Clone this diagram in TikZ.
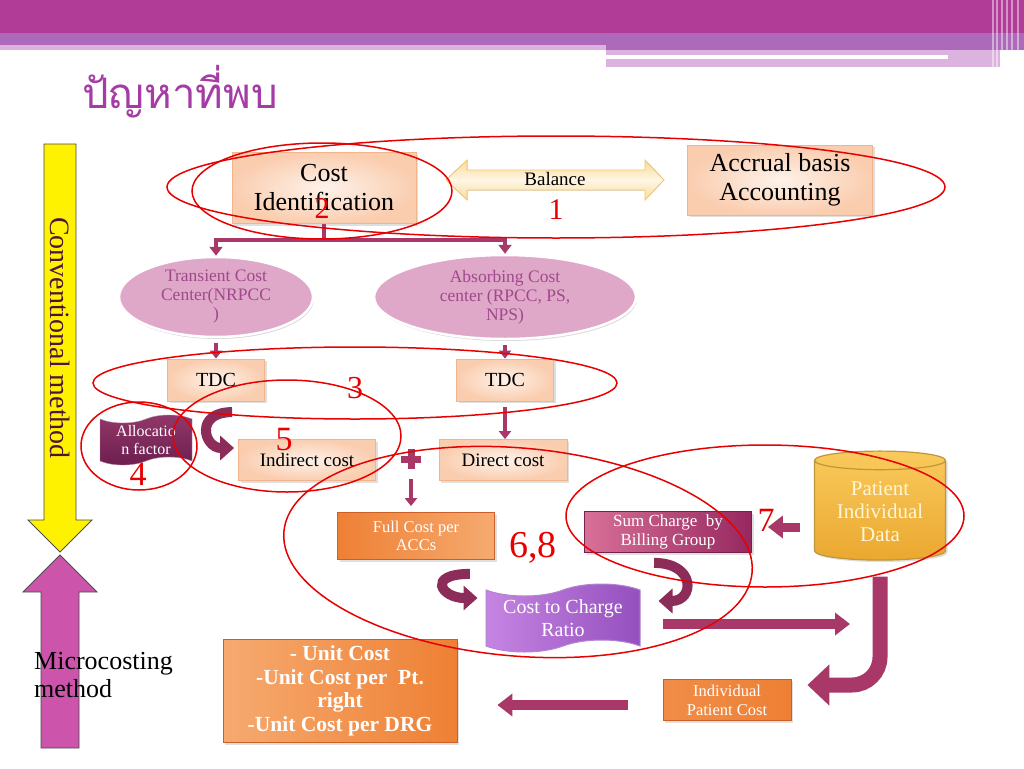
\documentclass[tikz,border=0pt]{standalone}
\usepackage{fontspec}
\setmainfont{Liberation Serif}
\newfontfamily\thaifont[Script=Thai]{Loma}
\usetikzlibrary{shapes.geometric,shapes.symbols,arrows.meta,shadows}
\definecolor{bannermag}{RGB}{176,60,152}
\definecolor{bannerlav}{RGB}{174,106,186}
\definecolor{bannerpink}{RGB}{220,178,222}
\definecolor{titlec}{RGB}{165,60,165}
\definecolor{peachfill}{RGB}{250,205,175}
\definecolor{peachlight}{RGB}{254,242,234}
\definecolor{peachline}{RGB}{242,180,140}
\definecolor{orangeA}{RGB}{238,128,52}
\definecolor{orangeB}{RGB}{246,170,112}
\definecolor{orangeline}{RGB}{200,96,40}
\definecolor{maroon}{RGB}{168,56,104}
\definecolor{curvec}{RGB}{140,44,88}
\definecolor{redmark}{RGB}{232,0,0}
\definecolor{ellfill}{RGB}{224,168,200}
\definecolor{elltext}{RGB}{160,72,140}
\definecolor{allocA}{RGB}{146,56,106}
\definecolor{allocB}{RGB}{108,30,78}
\definecolor{sumA}{RGB}{216,112,152}
\definecolor{sumB}{RGB}{150,40,95}
\definecolor{ccrA}{RGB}{198,132,226}
\definecolor{ccrB}{RGB}{148,80,190}
\definecolor{goldA}{RGB}{250,202,92}
\definecolor{goldB}{RGB}{234,168,48}
\definecolor{goldline}{RGB}{190,150,60}
\definecolor{microc}{RGB}{204,84,170}
\definecolor{convtext}{RGB}{80,20,60}
\definecolor{balA}{RGB}{250,218,150}
\definecolor{balB}{RGB}{255,246,228}
\definecolor{balline}{RGB}{240,200,120}
\newcommand\fs[2]{\fontsize{#1}{#2}\selectfont}
\tikzset{
  peachbox/.style={rectangle, draw=peachline, line width=0.8, inner color=peachlight, outer color=peachfill,
    drop shadow={opacity=0.25,shadow xshift=2pt,shadow yshift=-2pt}, align=center, inner sep=2pt},
  orangebox/.style={rectangle, draw=orangeline, line width=0.8, left color=orangeA, right color=orangeB,
    drop shadow={opacity=0.25,shadow xshift=2pt,shadow yshift=-2pt}, text=white, align=center, inner sep=2pt},
  centerell/.style={ellipse, draw=white, line width=2.5, fill=ellfill, text=elltext, align=center,
    inner sep=0pt, font=\fs{17.5}{19}, drop shadow={opacity=0.3,shadow xshift=1pt,shadow yshift=-2pt}},
  flag/.style={tape, tape bend top=in and out, tape bend bottom=in and out, align=center, text=white, inner sep=1pt},
  redring/.style={draw=redmark, line width=1.5},
  rednum/.style={text=redmark, inner sep=0pt},
  elbowline/.style={draw=maroon, line width=4.5},
  elbowarr/.style={elbowline, -{Triangle[length=9pt,width=13pt]}},
  thinarr/.style={draw=maroon, line width=3.5, -{Triangle[length=8pt,width=12pt]}},
  blockarr/.style={draw=maroon, line width=10, -{Triangle[length=15pt,width=22pt]}},
  curvearr/.style={draw=curvec, line width=10, -{Triangle[length=14pt,width=24pt]}},
}
\begin{document}
\begin{tikzpicture}[x=1pt,y=-1pt]
\useasboundingbox (0,0) rectangle (1024,768);
\fill[white] (0,0) rectangle (1024,768);
% banner
\fill[bannermag] (0,0) rectangle (1024,33);
\fill[bannerlav] (0,33) rectangle (1024,45);
\fill[bannerpink] (0,45) rectangle (606,50);
\fill[bannerlav] (606,45) rectangle (1024,50);
\fill[bannerpink] (606,50) rectangle (1000,67);
\fill[white] (606,55.5) rectangle (948,58.5);
\foreach \sx in {993,997,1002,1007,1012,1018}
  \draw[white, opacity=0.45, line width=1.5] (\sx,0) -- (\sx,70);
\node (title) at (82,92) [anchor=west, inner sep=0pt, font=\thaifont\fs{42}{46}, text=titlec] {ปัญหาที่พบ};

% side arrows
\filldraw[fill=yellow, draw=black!70, line width=0.8] (44,144) -- (76,144) -- (76,520) -- (92,520) -- (60,552) -- (28,520) -- (44,520) -- cycle;
\filldraw[fill=microc, draw=black!70, line width=0.8] (60,555) -- (97,592) -- (79,592) -- (79,748) -- (41,748) -- (41,592) -- (23,592) -- cycle;
\node (conv) at (60,338) [rotate=-90, font=\fs{28}{30}, text=convtext] {Conventional method};
\node (micro) at (34,675) [anchor=west, align=left, inner sep=0pt, font=\fs{26}{28}] {Microcosting\\method};

% top row
\node (cid) at (324,188) [peachbox, minimum width=184, minimum height=71, font=\fs{26}{29}] {Cost\\Identification};
\node (accr) at (780,180) [peachbox, minimum width=185, minimum height=70, font=\fs{26}{29}] {Accrual basis\\Accounting};
\filldraw[draw=balline, line width=0.8, top color=balA, bottom color=balA, middle color=balB]
  (446,180) -- (467,160) -- (467,170) -- (645,170) -- (645,160) -- (664,180) -- (645,200) -- (645,190) -- (467,190) -- (467,200) -- cycle;
\node (bal) at (555,179) [font=\fs{19}{21}] {Balance};

% cost centers
\node (tcc) at (216,297) [centerell, minimum width=194, minimum height=80] {Transient Cost\\Center(NRPCC\\)};
\node (abc) at (505,297) [centerell, minimum width=262, minimum height=84] {Absorbing Cost\\center (RPCC, PS,\\NPS)};
\coordinate (split) at (324,240);
\draw[elbowline] (cid.south) -- (split);
\draw[elbowarr] (split) -| (tcc.north);
\draw[elbowarr] (split) -| (abc.north);

\node (tdcl) at (216,380) [peachbox, minimum width=97, minimum height=42, font=\fs{20}{22}] {TDC};
\node (tdcr) at (505,380) [peachbox, minimum width=97, minimum height=42, font=\fs{20}{22}] {TDC};
\draw[thinarr, shorten <=5pt] (tcc.south) -- (tdcl.north);
\draw[thinarr, shorten <=5pt] (abc.south) -- (tdcr.north);

\node (alloc) at (146,440) [flag, top color=allocA, bottom color=allocB, draw=allocA!60!white, minimum width=92, minimum height=50, tape bend height=8pt, font=\fs{16}{18}] {Allocatio\\n factor};
\node (indc) at (307,460) [peachbox, minimum width=137, minimum height=41, font=\fs{19}{21}] {Indirect cost};
\node (dirc) at (503,460) [peachbox, minimum width=128, minimum height=41, font=\fs{19}{21}] {Direct cost};
\draw[thinarr, shorten <=6pt] (tdcr.south) -- (tdcr.south |- dirc.north);
\draw[curvearr] (indc.north west) ++(-6,-27) .. controls +(-38,0) and +(-30,0) .. ([shift={(-4pt,12pt)}]indc.west);

\fill[maroon] (407.5,449) rectangle (414.5,469);
\fill[maroon] (401,455.5) rectangle (421,462.5);
\node (plus) at (411,459) [minimum size=20pt, inner sep=0pt] {};

% charges
\node (full) at (416,536) [orangebox, minimum width=157, minimum height=47, font=\fs{16.5}{18}] {Full Cost per\\ACCs};
\draw[thinarr, shorten <=10pt, shorten >=6pt] (plus.south) -- (plus.south |- full.north);
\node (sumc) at (668,532) [rectangle, draw=sumB!80!black, line width=0.8, left color=sumA, right color=sumB, text=white, align=center, inner sep=2pt,
  minimum width=167, minimum height=41, font=\fs{17}{19}, drop shadow={opacity=0.25,shadow xshift=2pt,shadow yshift=-2pt}] {Sum Charge~~by\\Billing Group};
\node (pid) at (880,512) [cylinder, shape border rotate=90, aspect=0.2, draw=goldline, line width=1.2, top color=goldA, bottom color=goldB,
  text={rgb,255:red,255;green,246;blue,214}, align=center, minimum width=131, minimum height=109, font=\fs{21}{23},
  drop shadow={opacity=0.25,shadow xshift=2pt,shadow yshift=-2pt}] {Patient\\Individual\\Data};
\draw[blockarr, line width=9, shorten <=14pt, shorten >=16pt] ([yshift=5pt]pid.west |- sumc.east) -- ([yshift=5pt]sumc.east);

\node (ccr) at (563,618) [flag, left color=ccrA, right color=ccrB, draw=ccrB!70!white, line width=1, minimum width=154, minimum height=68,
  tape bend height=12pt, font=\fs{20}{23}] {Cost to Charge\\Ratio};
\draw[curvearr] (full.south east) ++(-25,14) .. controls +(-44,0) and +(-36,0) .. ([shift={(-8pt,20pt)}]ccr.west);
\draw[curvearr] (sumc.south west) ++(70,10) .. controls +(42,0) and +(36,0) .. ([shift={(18pt,17pt)}]ccr.east);
\coordinate (ccrend) at (850,624);
\draw[blockarr, shorten <=22pt] (ccr.east |- ccrend) -- (ccrend);

% results
\node (ipc) at (727,700) [orangebox, left color=orangeA!90!white, right color=orangeA, minimum width=128, minimum height=41, font=\fs{16.5}{19}] {Individual\\Patient Cost};
\draw[maroon, line width=15, rounded corners=28pt, -{Triangle[length=22pt,width=40pt]}]
  ([yshift=-16pt]pid.south) |- ([shift={(16pt,15pt)}]ipc.east);
\node (unit) at (340,691) [orangebox, left color=orangeB, right color=orangeA, minimum width=234, minimum height=103,
  font=\bfseries\fs{21.5}{23.5}] {- Unit Cost\\-Unit Cost per~~Pt.\\right\\-Unit Cost per DRG};
\draw[blockarr, shorten <=35pt, shorten >=40pt] ([yshift=-5pt]ipc.west) -- ([yshift=-5pt]ipc.west -| unit.east);

% red marks
\draw[redring] (556,187) ellipse (389 and 51);
\draw[redring] (322,191) ellipse (130 and 48);
\draw[redring] (355,383) ellipse (262 and 36);
\draw[redring] (139,446) ellipse (58 and 44);
\draw[redring] (287,436) ellipse (114 and 56);
\draw[redring, rotate around={-5:(518,552)}] (518,552) ellipse (235 and 104);
\draw[redring] (765,516) ellipse (199 and 71);
\node (n1) at (556,210) [rednum, font=\fs{30}{32}] {1};
\node (n2) at (322,209) [rednum, font=\fs{30}{32}] {2};
\node (n3) at (355,388) [rednum, font=\fs{32}{34}] {3};
\node (n4) at (138,474) [rednum, font=\fs{34}{36}] {4};
\node (n5) at (284,440) [rednum, font=\fs{34}{36}] {5};
\node (n68) at (533,548) [rednum, font=\fs{38}{40}] {6,8};
\node (n7) at (766,520) [rednum, font=\fs{34}{36}] {7};
\end{tikzpicture}
\end{document}
